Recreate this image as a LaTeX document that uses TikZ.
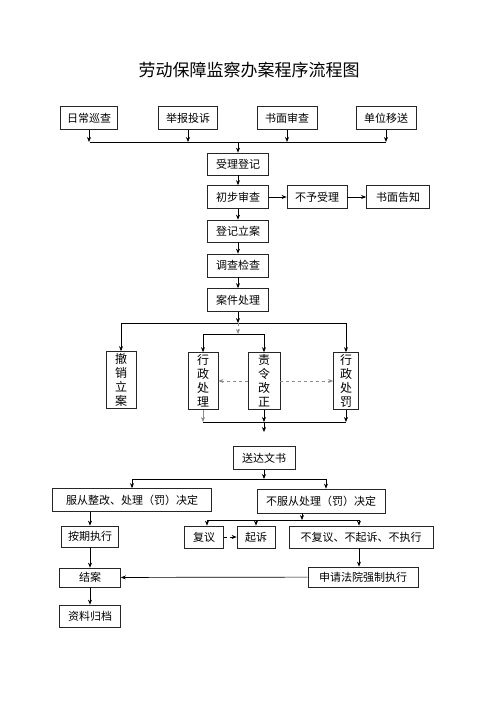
\documentclass[tikz,border=0pt]{standalone}
\usepackage{fontspec}
\setmainfont{Noto Sans CJK SC}
\usepackage{tikz}
\usetikzlibrary{positioning,arrows.meta,calc}

\begin{document}
\begin{tikzpicture}[x=1pt,y=-1pt,
box/.style={
  draw=black!85,
  line width=0.7pt,
  inner sep=1pt,
  minimum height=23pt,
  font=\fontsize{11}{13}\selectfont},
vbox/.style={
  box,
  align=center,
  minimum height=57pt,
  font=\fontsize{12}{14}\selectfont},
arr/.style={-{Stealth[length=5pt,width=4pt]}, line width=0.7pt},
garr/.style={arr, draw=black!45, dashed},
darr/.style={arr, dashed}
]
\useasboundingbox (0,0) rectangle (500,707);
\node[font=\fontsize{17}{20}\selectfont] (title) at (249,70) {劳动保障监察办案程序流程图};
% sources
\node[box, minimum width=57pt] (rc) at (89,118) {日常巡查};
\node[box, minimum width=59pt] (jb) at (188,118) {举报投诉};
\node[box, minimum width=60pt] (sm) at (287,118) {书面审查};
\node[box, minimum width=60pt] (dw) at (386,118) {单位移送};
% main column
\node[box, minimum width=61pt, minimum height=22pt] (sl) at (238,164) {受理登记};
\node[box, minimum width=61pt] (cb) at (238,197) {初步审查};
\node[box, minimum width=60pt] (by) at (317,197) {不予受理};
\node[box, minimum width=63pt] (gz) at (398,197) {书面告知};
\node[box, minimum width=61pt, minimum height=22pt] (dj) at (238,231) {登记立案};
\node[box, minimum width=61pt] (dc) at (238,265.5) {调查检查};
\node[box, minimum width=61pt] (aj) at (238,300) {案件处理};
% outcomes
\node[vbox, minimum width=30pt] (cx) at (121,380) {撤\\销\\立\\案};
\node[vbox, minimum width=30pt] (xz) at (203,381) {行\\政\\处\\理};
\node[vbox, minimum width=32pt] (zl) at (264,381) {责\\令\\改\\正};
\node[vbox, minimum width=25pt] (xf) at (346,381) {行\\政\\处\\罚};
\node[box, minimum width=62pt] (sd) at (264,458) {送达文书};
\node[box, minimum width=159pt] (fc) at (132,500) {服从整改、处理（罚）决定};
\node[box, minimum width=128pt, minimum height=24pt] (bf) at (321,501) {不服从处理（罚）决定};
\node[box, minimum width=57pt, minimum height=21pt] (aq) at (90,536.5) {按期执行};
\node[box, minimum width=39pt, minimum height=22pt] (fy) at (204,537) {复议};
\node[box, minimum width=38pt, minimum height=22pt] (qs) at (256,537) {起诉};
\node[box, minimum width=144pt, minimum height=22pt] (bfy) at (361,537) {不复议、不起诉、不执行};
\node[box, minimum width=110pt, minimum height=20pt] (sq) at (363,577) {申请法院强制执行};
\node[box, minimum width=61pt, minimum height=19pt] (ja) at (90,577.5) {结案};
\node[box, minimum width=61pt, minimum height=22pt] (zd) at (90,616) {资料归档};

\coordinate (T1) at (90,142);
\coordinate (T2) at (386,142);
\draw[line width=0.7pt] (T1) -- (T2);
\foreach \Src in {rc,jb,sm,dw}
  \draw[arr] (\Src) -- (\Src |- T1);
\draw[arr] (sl |- T1) -- (sl);
\draw[arr] (sl) -- (cb);
\draw[arr] (cb) -- (by);
\draw[arr] (by) -- (gz);
\draw[arr] (cb) -- (dj);
\draw[arr] (dj) -- (dc);
\draw[arr] (dc) -- (aj);

\coordinate (L1a) at (121,323);
\coordinate (L1b) at (346,323);
\coordinate (L2a) at (203,334);
\coordinate (L2b) at (264,334);
\draw[line width=0.7pt] (L1a) -- (L1b);
\draw[line width=0.7pt] (L2a) -- (L2b);
\draw[arr] (aj) -- (aj |- L1a);
\draw[garr] (aj |- L1a) -- (aj |- L2a);
\draw[arr] (L1a) -- (cx);
\draw[arr] (L1b) -- (xf);
\draw[arr] (L2a) -- (xz);
\draw[arr] (L2b) -- (zl);
\draw[garr] (zl) -- (xz);
\draw[garr] (zl) -- (xf);

\coordinate (L3a) at (203,422);
\coordinate (L3b) at (346,422);
\coordinate (E) at (264,432);
\draw[line width=0.7pt] (L3a) -- (L3b);
\draw[arr, draw=black!45] (xz) -- (L3a);
\draw[arr] (zl) -- (zl |- L3a);
\draw[arr] (xf) -- (L3b);
\draw[arr] (zl |- L3a) -- (E);

\coordinate (L4a) at (132,479);
\coordinate (L4b) at (326,479);
\draw[line width=0.7pt] (L4a) -- (L4b);
\draw[arr] (sd) -- (sd |- L4a);
\draw[arr] (L4a) -- (fc);
\draw[arr] (L4b) -- (L4b |- bf.north);
\draw[arr] (fc.south -| aq) -- (aq);

\coordinate (L5a) at (207,520);
\coordinate (L5b) at (359,520);
\coordinate (B5) at (302,520);
\draw[line width=0.7pt] (L5a) -- (L5b);
\draw[arr] (bf.south -| B5) -- (B5);
\draw[arr] (L5a) -- (L5a |- fy.north);
\draw[arr] (qs |- L5a) -- (qs);
\draw[arr] (L5b) -- (L5b |- bfy.north);
\draw[darr] (fy) -- (qs);
\draw[arr] (bfy.south -| L5b) -- (sq.north -| L5b);
\draw[arr] (sq) -- (ja);
\draw[arr] (aq) -- (ja);
\draw[arr] (ja) -- (zd);
\end{tikzpicture}
\end{document}
